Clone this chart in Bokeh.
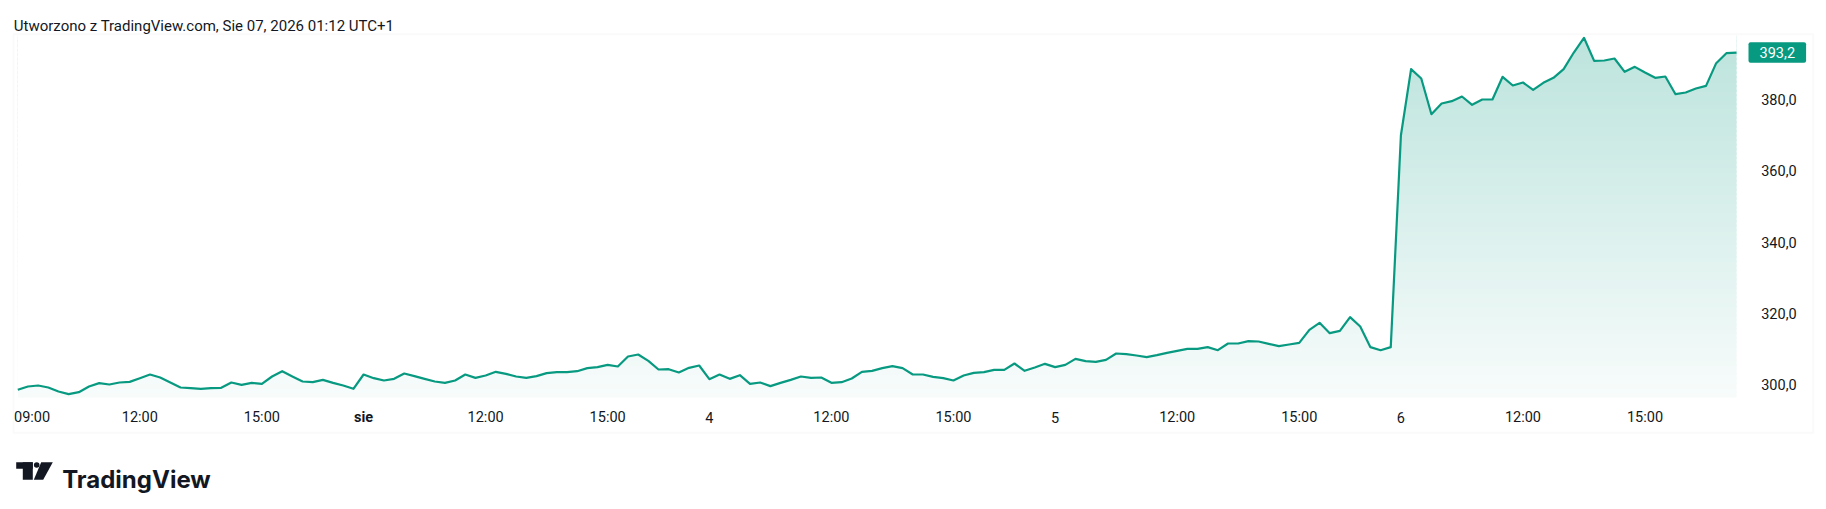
import numpy as np
from bokeh.plotting import figure
from bokeh.models import Label, BoxAnnotation, PolyAnnotation, Range1d
from bokeh.core.properties import value
from bokeh.embed import file_html
from bokeh.resources import INLINE

# ---- data: 15-minute closes, five sessions (09:00-17:30) ----
day1 = [298.59, 299.52, 299.80, 299.24, 298.12, 297.37, 297.93, 299.52, 300.46, 300.08,
        300.65, 300.83, 301.86, 302.89, 302.05, 300.65, 299.24, 299.06, 298.87, 299.06,
        299.15, 300.65, 299.99, 300.55, 300.27, 302.33, 303.82, 302.33, 300.93, 300.74,
        301.39, 300.55, 299.80, 298.87]
day2 = [302.89, 301.86, 301.21, 301.67, 303.17, 302.42, 301.67, 300.93, 300.55, 301.21,
        302.89, 301.95, 302.61, 303.64, 303.08, 302.33, 301.95, 302.42, 303.26, 303.54,
        303.54, 303.82, 304.67, 304.95, 305.60, 305.13, 307.94, 308.50, 306.72, 304.29,
        304.38, 303.45, 304.76, 305.41]
day3 = [301.58, 302.89, 301.67, 302.70, 300.27, 300.65, 299.62, 300.55, 301.39, 302.33,
        301.95, 302.05, 300.55, 300.74, 301.77, 303.64, 303.92, 304.67, 305.23, 304.67,
        302.89, 302.89, 302.24, 301.86, 301.21, 302.61, 303.36, 303.54, 304.20, 304.20,
        305.97, 303.92, 304.85, 305.88]
day4 = [304.95, 305.60, 307.28, 306.63, 306.44, 307.00, 308.78, 308.59, 308.22, 307.75,
        308.31, 308.97, 309.53, 310.09, 310.09, 310.56, 309.71, 311.58, 311.58, 312.24,
        312.15, 311.49, 310.84, 311.30, 311.77, 315.42, 317.38, 314.48, 315.14, 318.97,
        316.35, 310.56, 309.71, 310.56]
day5 = [370.00, 388.54, 385.92, 375.91, 378.91, 379.56, 380.87, 378.53, 380.03, 380.03,
        386.39, 383.96, 384.80, 382.74, 384.70, 386.11, 388.54, 393.21, 397.33, 390.87,
        390.97, 391.53, 387.79, 389.19, 387.60, 386.11, 386.48, 381.52, 381.99, 383.11,
        383.86, 390.22, 393.02, 393.20]

x_tick_pos = [1.4, 12, 24, 34, 46, 58, 68, 80, 92, 102, 114, 126, 136, 148, 160]
x_tick_labels = ["09:00", "12:00", "15:00", "sie", "12:00", "15:00", "4", "12:00", "15:00",
                 "5", "12:00", "15:00", "6", "12:00", "15:00"]
y_tick_pos = [300, 320, 340, 360, 380]
y_tick_labels = ["300,0", "320,0", "340,0", "360,0", "380,0"]
last_label = "393,2"
title_text = "Utworzono z TradingView.com, Sie 07, 2026 01:12 UTC+1"
logo_text = "TradingView"

values = day1 + day2 + day3 + day4 + day5
idx = list(range(len(values)))

# ---- layout (pixels on the canvas) ----
W, H = 1818, 500
X0_PX, PX_PER_BAR = 17.3, 10.17        # pixel of bar 0, pixels per bar
Y_REF_PX, PX_PER_UNIT = 384.3, 3.565   # pixel of first y tick, pixels per price unit
Y_REF = y_tick_pos[0]


def dx(px):
    return (px - X0_PX) / PX_PER_BAR


def dy(py):
    return Y_REF + (Y_REF_PX - py) / PX_PER_UNIT


GREEN = "#089981"
TXT = "#131722"
FONT = "Roboto"

p = figure(width=W, height=H, output_backend="svg", toolbar_location=None,
           x_range=Range1d(dx(0), dx(W)), y_range=Range1d(dy(H), dy(0)),
           x_axis_location=None, y_axis_location=None,
           min_border_left=0, min_border_right=0, min_border_top=0, min_border_bottom=0)
p.outline_line_color = None
p.background_fill_color = "white"
p.border_fill_color = "white"
p.grid.visible = False

# ---- gradient area under the line (bands, then white mask above line) ----
pane_bottom = dy(397)
vmax = max(values)
nb = 80
edges = np.linspace(pane_bottom, vmax, nb + 1)
mid = (edges[:-1] + edges[1:]) / 2
frac = (mid - pane_bottom) / (vmax - pane_bottom)
alpha = 0.03 + 0.24 * frac
base = np.array([8, 153, 129])
cols = ["#%02x%02x%02x" % tuple(int(round(c)) for c in (255 - a * (255 - base))) for a in alpha]
band_h = edges[1] - edges[0]
p.quad(left=idx[0], right=idx[-1], bottom=edges[:-1], top=edges[1:] + band_h * 0.5,
       fill_color=cols, line_color=None)
p.varea(x=idx, y1=values, y2=vmax + 2 * band_h, fill_color="white")
p.line(idx, values, line_color=GREEN, line_width=2.2, line_join="round")

# ---- price scale labels ----
p.text(x=[dx(1760.7)] * len(y_tick_pos), y=y_tick_pos, text=y_tick_labels,
       text_align="left", text_baseline="middle", text_color=TXT,
       text_font=value(FONT), text_font_size=value("14.5px"))

# ---- time scale labels (month names bold) ----
is_month = [lab.isalpha() for lab in x_tick_labels]
reg_x = [x for x, m in zip(x_tick_pos, is_month) if not m]
reg_t = [t for t, m in zip(x_tick_labels, is_month) if not m]
bold_x = [x for x, m in zip(x_tick_pos, is_month) if m]
bold_t = [t for t, m in zip(x_tick_labels, is_month) if m]
p.text(x=reg_x, y=[dy(416.7)] * len(reg_x), text=reg_t,
       text_align="center", text_baseline="middle", text_color=TXT,
       text_font=value(FONT), text_font_size=value("14.5px"))
p.text(x=bold_x, y=[dy(416.7)] * len(bold_x), text=bold_t,
       text_align="center", text_baseline="middle", text_color=TXT,
       text_font=value(FONT), text_font_size=value("14.5px"), text_font_style="bold")

# ---- last price tag (box on the price scale at the last value) ----
tag_half = 10.2 / PX_PER_UNIT
p.add_layout(BoxAnnotation(left=1748, right=1805.6, left_units="canvas", right_units="canvas",
                           top=values[-1] + tag_half, bottom=values[-1] - tag_half,
                           fill_color=GREEN, fill_alpha=1, line_color=None, border_radius=2))
p.add_layout(Label(x=dx(1776.8), y=values[-1], text=last_label,
                   text_align="center", text_baseline="middle",
                   text_font=FONT, text_font_size="14.5px", text_color="white"))

# ---- outer light frame ----
p.add_layout(BoxAnnotation(left=13, right=1812.7, top=33.7, bottom=432.3,
                           left_units="canvas", right_units="canvas",
                           top_units="canvas", bottom_units="canvas",
                           fill_color=None, line_color="#eeeeee", line_width=2))

# ---- header text ----
p.add_layout(Label(x=13.3, y=25.7, x_units="canvas", y_units="canvas", text=title_text,
                   text_align="left", text_baseline="alphabetic",
                   text_font=FONT, text_font_size="15px", text_color=TXT))

# ---- logo ----
def cbox(l, r, t, b, **kw):
    return BoxAnnotation(left=l, right=r, top=t, bottom=b,
                         left_units="canvas", right_units="canvas",
                         top_units="canvas", bottom_units="canvas",
                         fill_color=TXT, fill_alpha=1, line_color=None, **kw)


p.add_layout(cbox(15.7, 32.3, 461.7, 468.3))
p.add_layout(cbox(22.3, 32.3, 461.7, 479.3))
p.add_layout(cbox(33.4, 39.0, 461.7, 467.3, border_radius=3))
p.add_layout(PolyAnnotation(xs=[40.7, 52.3, 42.7, 33.3], ys=[461.7, 461.7, 479.3, 479.3],
                            xs_units="canvas", ys_units="canvas",
                            fill_color=TXT, fill_alpha=1, line_color=None))
p.add_layout(Label(x=61.7, y=479.3, x_units="canvas", y_units="canvas", text=logo_text,
                   text_align="left", text_baseline="alphabetic",
                   text_font="Inter", text_font_size="24px", text_font_style="bold",
                   text_color=TXT))

open("out.html", "w").write(file_html(p, INLINE))
